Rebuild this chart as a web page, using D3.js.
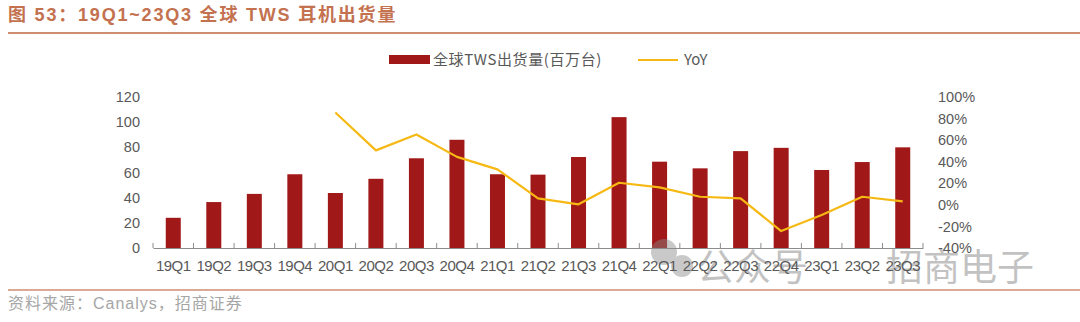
<!DOCTYPE html>
<html>
<head>
<meta charset="utf-8">
<script src="https://cdn.jsdelivr.net/npm/d3@7"></script>
<style>
  html, body { margin: 0; padding: 0; background: #fff; }
  svg { display: block; }
</style>
</head>
<body>
<div id="chart"></div>
<script>
// Данные
const quarters = ['19Q1','19Q2','19Q3','19Q4','20Q1','20Q2','20Q3','20Q4','21Q1','21Q2','21Q3','21Q4','22Q1','22Q2','22Q3','22Q4','23Q1','23Q2','23Q3']
const shipments = [24, 36.5, 43, 58.6, 43.7, 55, 71.3, 86, 58.6, 58.3, 72.3, 104, 68.6, 63.3, 77, 79.6, 62, 68.3, 80]
const yoy = [null, null, null, null, 85.6, 50.5, 65.3, 44.5, 32.9, 6, 0.5, 20.5, 16.2, 7.5, 6, -24.3, -9.4, 7.5, 3.2]
const leftTicks = [0, 20, 40, 60, 80, 100, 120]
const rightTicks = [-40, -20, 0, 20, 40, 60, 80, 100]

const config = {
  width: 1080,
  height: 322,
  plotLeft: 153,
  plotRight: 923,
  plotTop: 97,
  plotBottom: 248,
  colors: {
    title: '#c3714f',
    rule: '#cf8e70',
    bar: '#a11818',
    line: '#f6b914',
    text: '#595959',
    axis: '#8c8c8c',
    source: '#a6a6a6'
  }
}

const { width, height, plotLeft, plotRight, plotTop, plotBottom, colors } = config
const latin = '"Liberation Sans", Arial, "Noto Sans CJK SC", sans-serif'

const svg = d3.select('#chart')
  .append('svg')
  .attr('width', width)
  .attr('height', height)

// Заголовок
svg.append('text')
  .attr('x', 8)
  .attr('y', 21)
  .attr('fill', colors.title)
  .attr('font-family', latin)
  .attr('font-size', '18px')
  .attr('font-weight', 'bold')
  .attr('letter-spacing', '1.8px')
  .text('图 53：19Q1~23Q3 全球 TWS 耳机出货量')

svg.append('line')
  .attr('x1', 8).attr('x2', width)
  .attr('y1', 33).attr('y2', 33)
  .attr('stroke', colors.rule)
  .attr('stroke-width', 2)

// Шкалы
const x = d3.scaleBand()
  .domain(quarters)
  .range([plotLeft, plotRight])

const yLeft = d3.scaleLinear()
  .domain([0, 120])
  .range([plotBottom, plotTop])

const yRight = d3.scaleLinear()
  .domain([-40, 100])
  .range([plotBottom, plotTop])

// Столбцы
const barWidth = 15
svg.append('g')
  .selectAll('rect')
  .data(quarters)
  .enter()
  .append('rect')
  .attr('x', d => x(d) + x.bandwidth() / 2 - barWidth / 2)
  .attr('y', (d, i) => yLeft(shipments[i]))
  .attr('width', barWidth)
  .attr('height', (d, i) => yLeft(0) - yLeft(shipments[i]))
  .attr('fill', colors.bar)

// Водяной знак (под подписями оси)
const mark = svg.append('g').attr('opacity', 0.45)
mark.append('circle').attr('cx', 664).attr('cy', 252).attr('r', 13).attr('fill', '#8a8a8a')
mark.append('circle').attr('cx', 682).attr('cy', 266).attr('r', 11).attr('fill', '#8a8a8a')
mark.append('text')
  .attr('x', 697).attr('y', 281)
  .attr('fill', '#7a7a7a')
  .attr('font-family', '"Noto Sans CJK SC", sans-serif')
  .attr('font-size', '37px')
  .text('公众号')
mark.append('text')
  .attr('x', 886).attr('y', 281)
  .attr('fill', '#7a7a7a')
  .attr('font-family', '"Noto Sans CJK SC", sans-serif')
  .attr('font-size', '37px')
  .text('招商电子')

// Ось X
const xAxis = svg.append('g')
  .attr('transform', `translate(0,${plotBottom})`)
  .call(d3.axisBottom(x).tickSize(0).tickPadding(12))
xAxis.select('.domain').attr('stroke', colors.axis).attr('stroke-width', 1.2)
xAxis.selectAll('text')
  .attr('fill', colors.text)
  .attr('font-family', latin)
  .attr('font-size', '15px')
  .attr('letter-spacing', '-0.5px')

// Засечки между категориями
svg.append('g')
  .selectAll('line')
  .data(quarters.concat(['end']))
  .enter()
  .append('line')
  .attr('x1', (d, i) => plotLeft + i * x.step())
  .attr('x2', (d, i) => plotLeft + i * x.step())
  .attr('y1', plotBottom)
  .attr('y2', plotBottom - 5)
  .attr('stroke', colors.axis)

// Ось Y слева
const leftAxis = svg.append('g')
  .attr('transform', `translate(${plotLeft - 4},0)`)
  .call(d3.axisLeft(yLeft).tickValues(leftTicks).tickSize(0).tickPadding(9))
leftAxis.select('.domain').remove()
leftAxis.selectAll('text')
  .attr('fill', colors.text)
  .attr('font-family', latin)
  .attr('font-size', '14.5px')

// Ось Y справа
const rightAxis = svg.append('g')
  .attr('transform', `translate(${plotRight + 6},0)`)
  .call(d3.axisRight(yRight).tickValues(rightTicks).tickSize(0).tickPadding(9).tickFormat(d => d + '%'))
rightAxis.select('.domain').remove()
rightAxis.selectAll('text')
  .attr('fill', colors.text)
  .attr('font-family', latin)
  .attr('font-size', '14.5px')

// Линия YoY
const line = d3.line()
  .defined(d => d != null)
  .x((d, i) => x(quarters[i]) + x.bandwidth() / 2)
  .y(d => yRight(d))

svg.append('path')
  .datum(yoy)
  .attr('fill', 'none')
  .attr('stroke', colors.line)
  .attr('stroke-width', 2.2)
  .attr('stroke-linejoin', 'round')
  .attr('d', line)

// Легенда
const legend = svg.append('g')
  .attr('font-family', '"Noto Sans CJK SC", sans-serif')
  .attr('font-size', '15px')
  .attr('fill', colors.text)

legend.append('rect')
  .attr('x', 389).attr('y', 55)
  .attr('width', 41).attr('height', 9)
  .attr('fill', colors.bar)
legend.append('text')
  .attr('x', 433).attr('y', 65)
  .attr('letter-spacing', '0.6px')
  .text('全球TWS出货量(百万台)')

legend.append('line')
  .attr('x1', 638).attr('x2', 678)
  .attr('y1', 60).attr('y2', 60)
  .attr('stroke', colors.line)
  .attr('stroke-width', 2)
legend.append('text')
  .attr('x', 684).attr('y', 65)
  .text('YoY')

// Источник
svg.append('line')
  .attr('x1', 8).attr('x2', width)
  .attr('y1', 290).attr('y2', 290)
  .attr('stroke', colors.rule)
  .attr('stroke-width', 1.5)

svg.append('text')
  .attr('x', 8)
  .attr('y', 309)
  .attr('fill', colors.source)
  .attr('font-family', latin)
  .attr('font-size', '16px')
  .attr('letter-spacing', '1px')
  .text('资料来源：Canalys，招商证券')
</script>
</body>
</html>
